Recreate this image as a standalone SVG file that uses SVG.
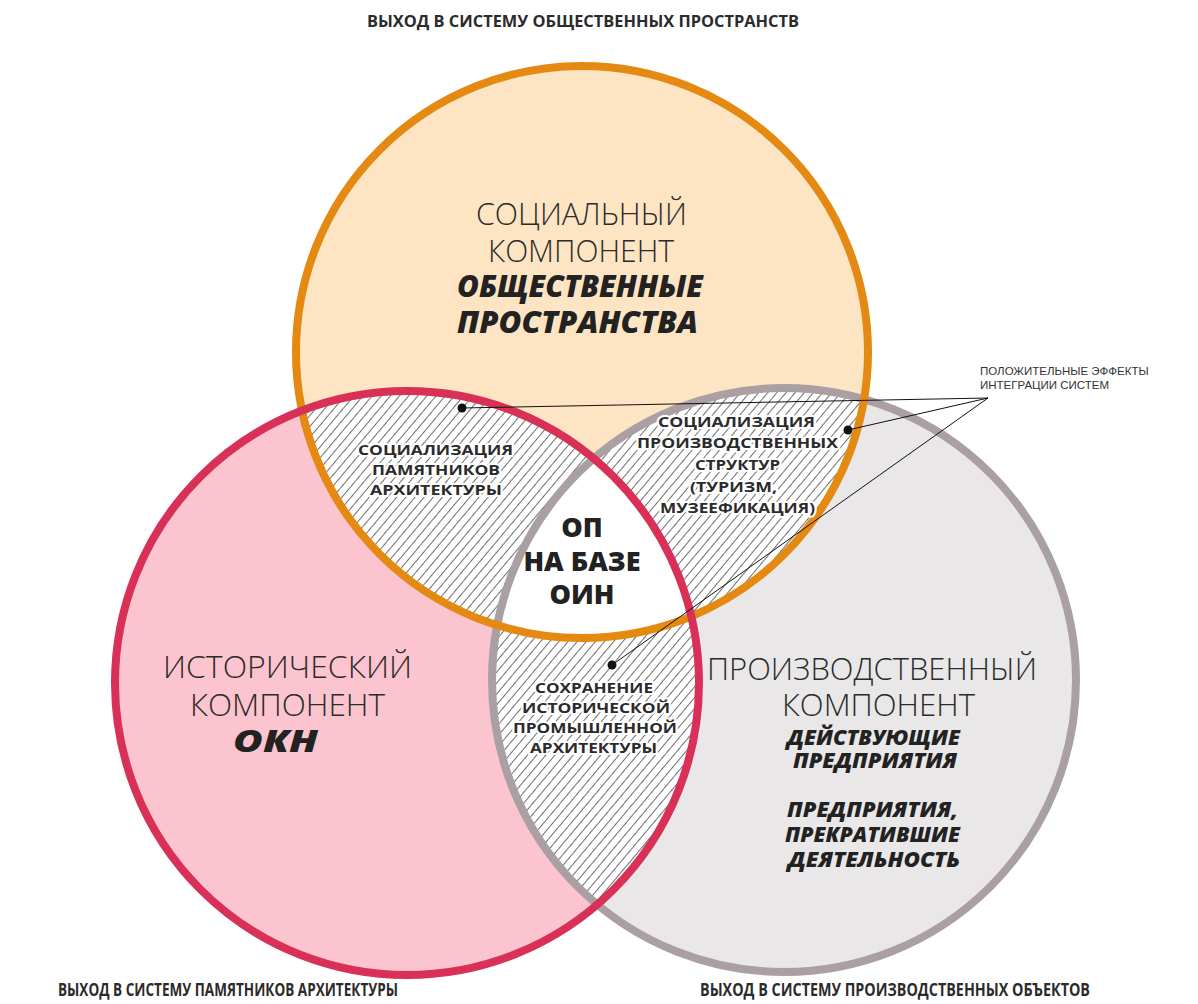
<svg xmlns="http://www.w3.org/2000/svg" xmlns:xlink="http://www.w3.org/1999/xlink" width="1198" height="1004" viewBox="0 0 1198 1004">
<style>
.title{font-family:"Open Sans","Liberation Sans",sans-serif;font-weight:700;fill:#2b2b2b;text-anchor:middle}
.big{font-family:"Open Sans","Liberation Sans",sans-serif;font-weight:300;font-size:32px;fill:#2b2b2b;text-anchor:middle}
.bi{font-family:"Open Sans","Liberation Sans",sans-serif;font-weight:800;font-style:italic;fill:#222;text-anchor:middle}
.lens{font-family:"Open Sans","Liberation Sans",sans-serif;font-weight:700;font-size:15px;fill:#2b2b2b;text-anchor:middle;stroke:#fff;stroke-width:4;paint-order:stroke;stroke-linejoin:round}
.ctr{font-family:"Open Sans","Liberation Sans",sans-serif;font-weight:800;font-size:27px;fill:#222;text-anchor:middle}
.note{font-family:"Liberation Sans",Arial,sans-serif;font-size:11.5px;fill:#333}
.lead{stroke:#111;stroke-width:1;fill:none}
</style>
<defs>
<pattern id="hatch" width="7" height="7" patternUnits="userSpaceOnUse" patternTransform="rotate(40)">
<rect width="7" height="7" fill="#fff"/>
<line x1="0" y1="0" x2="0" y2="7" stroke="#222" stroke-width="1.3"/>
</pattern>
<clipPath id="cO"><circle cx="582" cy="352" r="286"/></clipPath>
<clipPath id="cR"><circle cx="407" cy="683" r="292"/></clipPath>
<clipPath id="cG"><circle cx="784" cy="680" r="292"/></clipPath>
</defs>
<rect width="1198" height="1004" fill="#fff"/>

<g id="fills">
<circle cx="784" cy="680" r="292" fill="#e9e7e8"/>
<circle cx="407" cy="683" r="292" fill="#fbc4ce"/>
<circle cx="582" cy="352" r="286" fill="#fde4c3"/>
<g clip-path="url(#cO)"><circle cx="407" cy="683" r="292" fill="url(#hatch)"/><circle cx="784" cy="680" r="292" fill="url(#hatch)"/></g>
<g clip-path="url(#cR)"><circle cx="784" cy="680" r="292" fill="url(#hatch)"/></g>
<g clip-path="url(#cO)"><g clip-path="url(#cR)"><circle cx="784" cy="680" r="292" fill="#fff"/></g></g>
</g>

<g id="strokes" fill="none" stroke-width="8">
<circle id="node-production" cx="784" cy="680" r="292" stroke="#aa9fa3"/>
<circle id="node-social" cx="582" cy="352" r="286" stroke="#e48a12"/>
<circle id="node-historic" cx="407" cy="683" r="292" stroke="#d93058"/>
</g>

<g id="connectors">
<line class="lead" x1="988" y1="398" x2="462" y2="408"/>
<line class="lead" x1="988" y1="398" x2="848" y2="430"/>
<line class="lead" x1="988" y1="398" x2="612" y2="665"/>
<circle cx="462" cy="408" r="4.5" fill="#111"/>
<circle cx="848" cy="430" r="4.5" fill="#111"/>
<circle cx="612" cy="665" r="4.5" fill="#111"/>
</g>

<g id="label-social">
<text class="big" x="581.5" y="225" textLength="211" lengthAdjust="spacingAndGlyphs">СОЦИАЛЬНЫЙ</text>
<text class="big" x="581" y="262" textLength="186" lengthAdjust="spacingAndGlyphs">КОМПОНЕНТ</text>
<text class="bi" x="580" y="297" font-size="30" textLength="246" lengthAdjust="spacingAndGlyphs">ОБЩЕСТВЕННЫЕ</text>
<text class="bi" x="577.5" y="333" font-size="30" textLength="241" lengthAdjust="spacingAndGlyphs">ПРОСТРАНСТВА</text>
</g>
<g id="label-historic">
<text class="big" x="287.5" y="678" textLength="249" lengthAdjust="spacingAndGlyphs">ИСТОРИЧЕСКИЙ</text>
<text class="big" x="287.5" y="716" textLength="195" lengthAdjust="spacingAndGlyphs">КОМПОНЕНТ</text>
<text class="bi" x="275.5" y="752" font-size="30" textLength="85" lengthAdjust="spacingAndGlyphs">ОКН</text>
</g>
<g id="label-production">
<text class="big" x="872" y="680" textLength="330" lengthAdjust="spacingAndGlyphs">ПРОИЗВОДСТВЕННЫЙ</text>
<text class="big" x="878.5" y="716" textLength="193" lengthAdjust="spacingAndGlyphs">КОМПОНЕНТ</text>
<text class="bi" x="873.5" y="745" font-size="21" textLength="173" lengthAdjust="spacingAndGlyphs">ДЕЙСТВУЮЩИЕ</text>
<text class="bi" x="875" y="768" font-size="21" textLength="164" lengthAdjust="spacingAndGlyphs">ПРЕДПРИЯТИЯ</text>
<text class="bi" x="872.5" y="817" font-size="21" textLength="171" lengthAdjust="spacingAndGlyphs">ПРЕДПРИЯТИЯ,</text>
<text class="bi" x="872.5" y="842" font-size="21" textLength="175" lengthAdjust="spacingAndGlyphs">ПРЕКРАТИВШИЕ</text>
<text class="bi" x="874" y="867" font-size="21" textLength="172" lengthAdjust="spacingAndGlyphs">ДЕЯТЕЛЬНОСТЬ</text>
</g>
<g id="label-lens-or">
<text class="lens" x="435.5" y="455" textLength="155" lengthAdjust="spacingAndGlyphs">СОЦИАЛИЗАЦИЯ</text>
<text class="lens" x="436" y="475" textLength="128" lengthAdjust="spacingAndGlyphs">ПАМЯТНИКОВ</text>
<text class="lens" x="436" y="495" textLength="132" lengthAdjust="spacingAndGlyphs">АРХИТЕКТУРЫ</text>
</g>
<g id="label-lens-og">
<text class="lens" x="736.5" y="427" textLength="157" lengthAdjust="spacingAndGlyphs">СОЦИАЛИЗАЦИЯ</text>
<text class="lens" x="737.5" y="448" textLength="201" lengthAdjust="spacingAndGlyphs">ПРОИЗВОДСТВЕННЫХ</text>
<text class="lens" x="737.5" y="470" textLength="85" lengthAdjust="spacingAndGlyphs">СТРУКТУР</text>
<text class="lens" x="733.5" y="492" textLength="87" lengthAdjust="spacingAndGlyphs">(ТУРИЗМ,</text>
<text class="lens" x="737.5" y="513" textLength="155" lengthAdjust="spacingAndGlyphs">МУЗЕЕФИКАЦИЯ)</text>
</g>
<g id="label-lens-rg">
<text class="lens" x="594" y="693" textLength="118" lengthAdjust="spacingAndGlyphs">СОХРАНЕНИЕ</text>
<text class="lens" x="596" y="713" textLength="148" lengthAdjust="spacingAndGlyphs">ИСТОРИЧЕСКОЙ</text>
<text class="lens" x="595" y="733" textLength="164" lengthAdjust="spacingAndGlyphs">ПРОМЫШЛЕННОЙ</text>
<text class="lens" x="593.5" y="753" textLength="127" lengthAdjust="spacingAndGlyphs">АРХИТЕКТУРЫ</text>
</g>
<g id="label-center">
<text class="ctr" x="582" y="537">ОП</text>
<text class="ctr" x="582" y="571">НА БАЗЕ</text>
<text class="ctr" x="582" y="604">ОИН</text>
</g>
<g id="note">
<text class="note" x="980" y="375">ПОЛОЖИТЕЛЬНЫЕ ЭФФЕКТЫ</text>
<text class="note" x="980" y="389">ИНТЕГРАЦИИ СИСТЕМ</text>
</g>
<g id="titles">
<text class="title" x="583" y="27" font-size="15.5" textLength="432" lengthAdjust="spacingAndGlyphs">ВЫХОД В СИСТЕМУ ОБЩЕСТВЕННЫХ ПРОСТРАНСТВ</text>
<text class="title" x="228" y="996" font-size="18" textLength="340" lengthAdjust="spacingAndGlyphs">ВЫХОД В СИСТЕМУ ПАМЯТНИКОВ АРХИТЕКТУРЫ</text>
<text class="title" x="895" y="996" font-size="18" textLength="390" lengthAdjust="spacingAndGlyphs">ВЫХОД В СИСТЕМУ ПРОИЗВОДСТВЕННЫХ ОБЪЕКТОВ</text>
</g>
</svg>
